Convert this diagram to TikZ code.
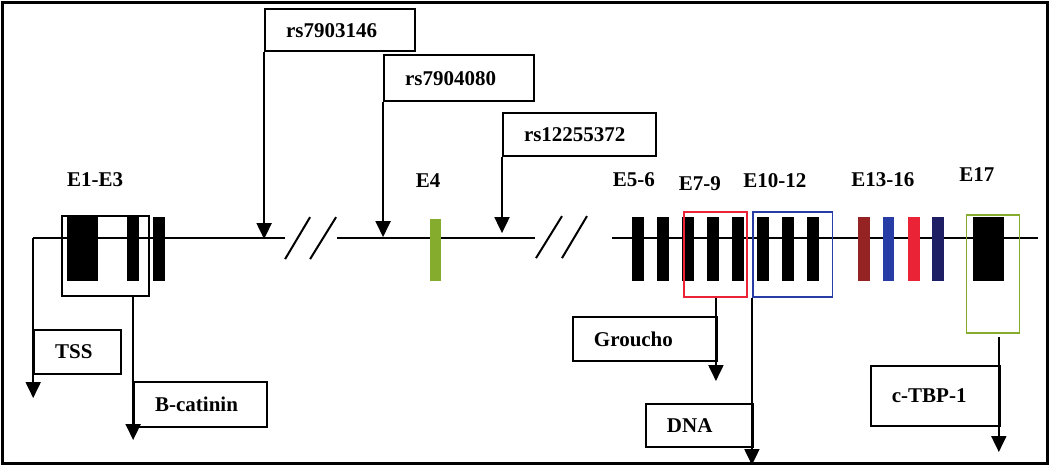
\documentclass[tikz,border=0pt]{standalone}
\usepackage{fontspec}
\setmainfont{Liberation Serif}
\usetikzlibrary{arrows.meta}
\definecolor{exgreen}{RGB}{134,172,46}
\definecolor{exbrown}{RGB}{150,35,35}
\definecolor{exblue}{RGB}{40,60,165}
\definecolor{exred}{RGB}{235,35,55}
\definecolor{exnavy}{RGB}{30,30,100}

\begin{document}
\begin{tikzpicture}[x=1pt,y=-1pt]
	% styles
	\tikzstyle{gene} += [line width=2.3pt]
	\tikzstyle{brk} += [line width=2pt]
	\tikzstyle{grp} += [draw,line width=1.6pt,anchor=north west,inner sep=0pt]
	\tikzstyle{tag} += [draw,line width=2pt,anchor=north west,inner xsep=21pt,inner ysep=0pt,align=left,font=\bfseries\fontsize{21}{25}\selectfont]
	\tikzstyle{ex} += [font=\bfseries\fontsize{21}{25}\selectfont]
	\tikzstyle{arr} += [line width=1.9pt,-{Triangle[width=15pt,length=16pt]}]
	
	% bounding box and frame
	\draw[white] (0,0) rectangle (1051,471);
	\draw[line width=3pt] (2.5,2.5) rectangle (1048,463);
	
	% gene line
	\coordinate (start) at (33,238);
	\draw[gene] (start) -- (285,238);
	\draw[gene] (337,238) -- (535,238);
	\draw[gene] (612,238) -- (1038,238);
	
	% breaks
	\draw[brk] (285,259) -- (310,217) (310,259) -- (336,217);
	\draw[brk] (536,258) -- (562,216) (562,258) -- (587,216);
	
	% exons
	\fill (67,217) rectangle (98,281);
	\fill (127,217) rectangle (139,281);
	\fill (153,217) rectangle (165,281);
	\fill[exgreen] (430,219) rectangle (441,281);
	\foreach \x in {0,...,7}
	{
		\fill (632+25*\x,217) rectangle (644+25*\x,281);
	}
	\fill[exbrown] (858,217) rectangle (870,281);
	\fill[exblue] (883,217) rectangle (894,281);
	\fill[exred] (908,217) rectangle (920,281);
	\fill[exnavy] (932,217) rectangle (944,281);
	\fill (973,217) rectangle (1004,281);
	
	% exon groups
	\node[grp,minimum width=87pt,minimum height=80pt] (g13) at (61,215) {};
	\node[grp,draw=exred,minimum width=63pt,minimum height=85pt] (g79) at (683,211) {};
	\node[grp,draw=exblue,minimum width=80pt,minimum height=85pt] (g1012) at (752,211) {};
	\node[grp,draw=exgreen,minimum width=53pt,minimum height=118pt] (g17) at (966,214) {};
	
	% exon labels
	\node[ex] (l13) at (95,180) {E1-E3};
	\node[ex] (l4) at (428,180) {E4};
	\node[ex] (l56) at (634,180) {E5-6};
	\node[ex] (l79) at (700,184) {E7-9};
	\node[ex] (l1012) at (775,180) {E10-12};
	\node[ex] (l1316) at (883,180) {E13-16};
	\node[ex] (l17) at (977,174) {E17};
	
	% snps
	\node[tag,text width=108pt,minimum height=42pt] (snpA) at (264,8) {rs7903146};
	\node[tag,text width=108pt,minimum height=46pt] (snpB) at (383,54) {rs7904080};
	\node[tag,text width=111pt,minimum height=43pt] (snpC) at (502,112) {rs12255372};
	\coordinate (hitA) at (264,239);
	\coordinate (hitB) at (383,237);
	\coordinate (hitC) at (502,233);
	\draw[arr] (snpA.south west) -- (hitA);
	\draw[arr] (snpB.south west) -- (hitB);
	\draw[arr] (snpC.south west) -- (hitC);
	
	% binding partners
	\node[tag,text width=45pt,minimum height=44pt] (tss) at (33,329) {TSS};
	\node[tag,text width=91pt,minimum height=45pt] (bcat) at (133,381) {B-catinin};
	\node[tag,text width=102pt,minimum height=44pt] (grou) at (572,316) {Groucho};
	\node[tag,text width=65pt,minimum height=43pt] (dna) at (645,403) {DNA};
	\node[tag,text width=87pt,minimum height=60pt] (ctbp) at (870,365) {c-TBP-1};
	\coordinate (tssEnd) at (33,398);
	\coordinate (bcatEnd) at (133,440);
	\coordinate (grouEnd) at (716,381);
	\coordinate (dnaEnd) at (752,465);
	\coordinate (ctbpTop) at (999,337);
	\coordinate (ctbpEnd) at (999,452);
	\draw[arr] (start) -- (tssEnd);
	\draw[arr] (g13.south -| bcatEnd) -- (bcatEnd);
	\draw[arr] (g79.south -| grouEnd) -- (grouEnd);
	\draw[arr] (g1012.south west) -- (dnaEnd);
	\draw[arr] (ctbpTop) -- (ctbpEnd);
\end{tikzpicture}
\end{document}
